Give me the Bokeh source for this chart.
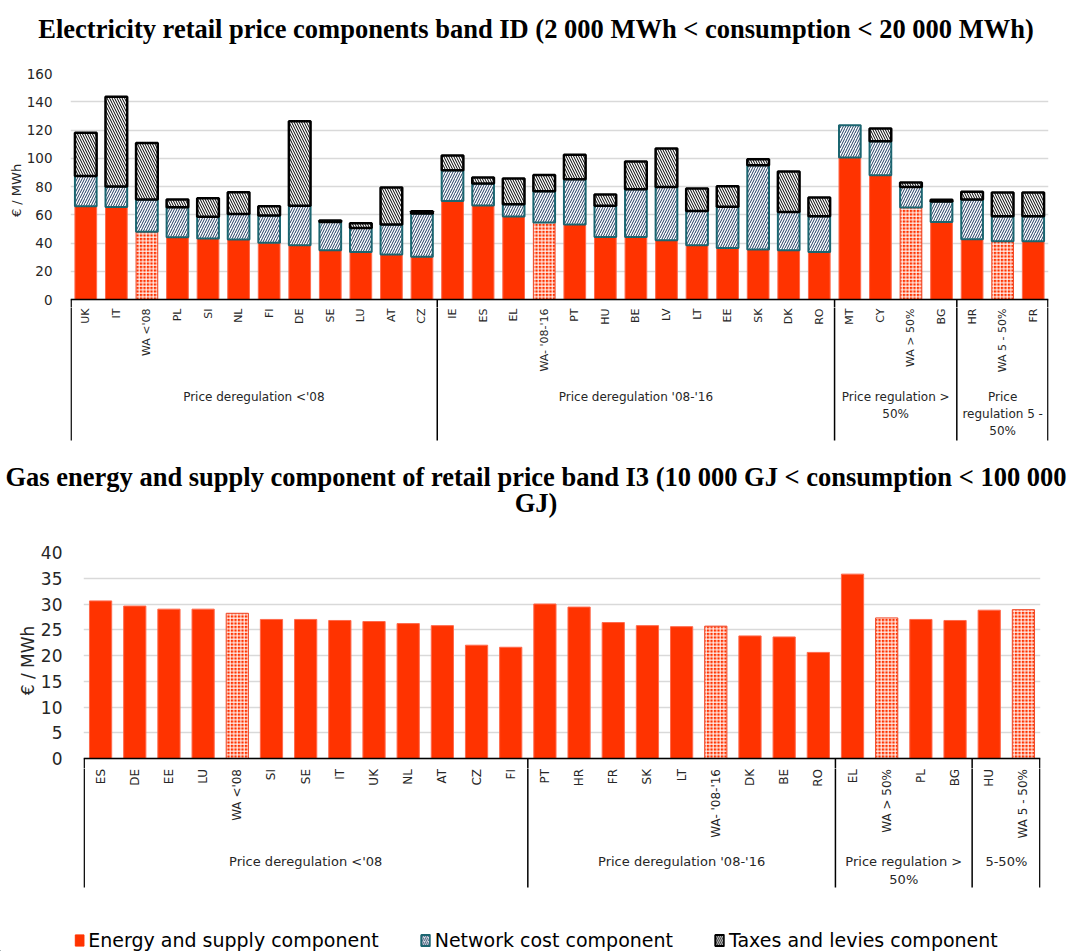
import numpy as np
from bokeh.plotting import figure
from bokeh.models import Range1d, FixedTicker, ColumnDataSource, Legend, LegendItem
from bokeh.layouts import column
from bokeh.embed import file_html
from bokeh.resources import INLINE
from bokeh.core.properties import value

# ---------------- data: electricity (top chart) ----------------
elec_title = "Electricity retail price components band ID (2 000 MWh < consumption < 20 000 MWh)"
elec_labels = ["UK", "IT", "WA <'08", "PL", "SI", "NL", "FI", "DE", "SE", "LU", "AT", "CZ",
               "IE", "ES", "EL", "WA- '08-'16", "PT", "HU", "BE", "LV", "LT", "EE", "SK", "DK", "RO",
               "MT", "CY", "WA > 50%", "BG",
               "HR", "WA 5 - 50%", "FR"]
elec_energy = [66.0, 65.5, 48.0, 44.0, 43.2, 42.5, 40.1, 38.4, 34.9, 33.7, 31.8, 30.2,
               69.8, 66.5, 58.7, 54.5, 53.1, 44.3, 44.3, 42.0, 38.4, 36.5, 35.4, 34.9, 33.7,
               100.5, 88.0, 65.1, 54.9,
               42.7, 41.3, 41.3]
elec_network = [21.5, 14.5, 22.8, 21.3, 15.3, 18.1, 19.4, 27.9, 20.0, 17.0, 21.3, 30.7,
                21.7, 15.6, 8.8, 22.2, 32.1, 22.0, 33.8, 37.7, 24.3, 29.1, 59.6, 27.1, 25.3,
                22.9, 24.0, 14.6, 14.5,
                28.1, 17.7, 17.7]
elec_taxes = [30.5, 63.5, 40.0, 5.5, 13.2, 15.4, 6.5, 59.9, 1.0, 3.3, 26.2, 1.6,
              10.4, 4.3, 18.1, 11.5, 17.2, 8.0, 19.6, 27.2, 15.9, 14.6, 4.3, 28.6, 13.2,
              0.0, 9.0, 3.1, 1.2,
              5.4, 16.8, 16.8]
elec_group_sizes = [12, 13, 4, 3]
elec_group_labels = ["Price deregulation <'08", "Price deregulation '08-'16",
                     "Price regulation >\n50%", "Price\nregulation 5 -\n50%"]
elec_ticks = [0, 20, 40, 60, 80, 100, 120, 140, 160]

# ---------------- data: gas (bottom chart) ----------------
gas_title = "Gas energy and supply component of retail price band I3 (10 000 GJ < consumption < 100 000\nGJ)"
gas_labels = ["ES", "DE", "EE", "LU", "WA <'08", "SI", "SE", "IT", "UK", "NL", "AT", "CZ", "FI",
              "PT", "HR", "FR", "SK", "LT", "WA- '08-'16", "DK", "BE", "RO",
              "EL", "WA > 50%", "PL", "BG",
              "HU", "WA 5 - 50%"]
gas_energy = [30.6, 29.6, 29.0, 29.0, 28.2, 27.0, 27.0, 26.8, 26.6, 26.2, 25.8, 22.0, 21.6,
              30.0, 29.4, 26.4, 25.8, 25.6, 25.7, 23.8, 23.6, 20.6,
              35.8, 27.3, 27.0, 26.8,
              28.8, 28.9]
gas_group_sizes = [13, 9, 4, 2]
gas_group_labels = ["Price deregulation <'08", "Price deregulation '08-'16",
                    "Price regulation >\n50%", "5-50%"]
gas_ticks = [0, 5, 10, 15, 20, 25, 30, 35, 40]

legend_labels = ["Energy and supply component", "Network cost component", "Taxes and levies component"]

# ---------------- styles ----------------
RED = "#FF3300"
TEAL = "#1B6570"
NAVY = "#1F3A60"
GRID = "#D9D9D9"
TXT = "#262626"
FONT = "DejaVu Sans"
SERIF = "Liberation Serif"
W = 1071


def blank_fig(h, xr, left=0, right=0):
    f = figure(width=W, height=h, x_range=xr, y_range=Range1d(-h, 0),
               toolbar_location=None, output_backend="svg",
               x_axis_type=None, y_axis_type=None,
               min_border_left=left, min_border_right=right,
               min_border_top=0, min_border_bottom=0)
    f.outline_line_color = None
    f.frame_align = False
    return f


def energy_source(labels, vals):
    wa = [lab.startswith("WA") for lab in labels]
    return ColumnDataSource(dict(
        x=list(range(len(labels))),
        bottom=[0.0] * len(labels),
        top=list(vals),
        hp=["+" if w else " " for w in wa],
        lc=["#F04A2A" if w else "#FF6A4D" for w in wa],
    ))


def group_bounds(sizes):
    b = np.concatenate([[0], np.cumsum(sizes)]) - 0.5
    bx = b.copy()
    bx[0] += 0.02
    bx[-1] -= 0.02
    return b, bx


def title_fig(h, text, ycenter):
    f = blank_fig(h, Range1d(0, W))
    lines = text.split("\n")
    f.text(x=[W / 2] * len(lines), y=[ycenter - 26 * i for i in range(len(lines))], text=lines,
           text_align="center", text_baseline="middle", text_font=value(SERIF),
           text_font_style="bold", text_font_size="26.5px", text_color="black")
    return f


def axis_marks(p, n, sizes, ybottom):
    # category axis line and the top part of the group separators
    _, bx = group_bounds(sizes)
    p.segment(x0=list(bx), y0=[0] * len(bx), x1=list(bx), y1=[ybottom] * len(bx),
              line_color="black", line_width=1.5)
    p.segment(x0=[-0.5], y0=[0], x1=[n - 0.5], y1=[0], line_color="black", line_width=1.5)


def label_fig(h, xr, labels, sizes, glabels, left, right, lab_size, glab_size,
              lab_y, glab_y, glab_lh, line_bottom):
    f = blank_fig(h, xr, left, right)
    n = len(labels)
    f.text(x=list(range(n)), y=[lab_y] * n, text=labels, angle=np.pi / 2,
           text_align="right", text_baseline="middle", text_font=value(FONT),
           text_font_size=lab_size, text_color=TXT)
    b, bx = group_bounds(sizes)
    f.segment(x0=list(bx), y0=[1] * len(bx), x1=list(bx), y1=[line_bottom] * len(bx),
              line_color="black", line_width=1.5)
    gx, gy, gt = [], [], []
    for i, gl in enumerate(glabels):
        c = (b[i] + b[i + 1]) / 2
        for k, ln in enumerate(gl.split("\n")):
            gx.append(c)
            gy.append(glab_y - glab_lh * k)
            gt.append(ln)
    f.text(x=gx, y=gy, text=gt, text_align="center", text_baseline="middle",
           text_font=value(FONT), text_font_size=glab_size, text_color=TXT)
    return f


def style_plot(p, ticks, tick_size, lab_size, standoff, lab_standoff):
    p.frame_align = False
    p.yaxis.ticker = FixedTicker(ticks=ticks)
    p.yaxis.axis_line_color = None
    p.yaxis.major_tick_line_color = None
    p.yaxis.minor_tick_line_color = None
    p.yaxis.major_label_standoff = standoff
    p.yaxis.major_label_text_font = FONT
    p.yaxis.major_label_text_font_size = tick_size
    p.yaxis.major_label_text_color = TXT
    p.yaxis.axis_label = "€ / MWh"
    p.yaxis.axis_label_text_font = FONT
    p.yaxis.axis_label_text_font_size = lab_size
    p.yaxis.axis_label_text_font_style = "normal"
    p.yaxis.axis_label_text_color = TXT
    p.yaxis.axis_label_standoff = lab_standoff
    p.ygrid.ticker = FixedTicker(ticks=ticks)
    p.ygrid.grid_line_color = GRID
    p.ygrid.grid_line_width = 1.5
    p.xgrid.visible = False
    p.outline_line_color = None


# ================= top: electricity =================
n1 = len(elec_labels)
xr1 = Range1d(-0.5, n1 - 0.5)
t1 = title_fig(63, elec_title, -28)

pA = figure(width=W, height=244, x_range=xr1, y_range=Range1d(-5.66, 160),
            toolbar_location=None, output_backend="svg", x_axis_type=None,
            min_border_left=70, min_border_right=23, min_border_top=10, min_border_bottom=0)
style_plot(pA, elec_ticks, "13.5px", "13px", 12, 0)

e_src = energy_source(elec_labels, elec_energy)
pA.vbar(x="x", bottom="bottom", top="top", width=0.71, source=e_src,
        fill_color=RED, line_color="lc", line_width=1,
        hatch_pattern="hp", hatch_color="white", hatch_scale=3.5, hatch_weight=1.0)

net_top = [a + b for a, b in zip(elec_energy, elec_network)]
n_src = ColumnDataSource(dict(x=list(range(n1)), bottom=list(elec_energy), top=net_top))
pA.vbar(x="x", bottom="bottom", top="top", width=0.71, source=n_src,
        fill_color="white", line_color=TEAL, line_width=2,
        hatch_pattern="/", hatch_color=NAVY, hatch_scale=5, hatch_weight=1)

tax_idx = [i for i in range(n1) if elec_taxes[i] > 0]
t_src = ColumnDataSource(dict(
    x=tax_idx,
    bottom=[net_top[i] for i in tax_idx],
    top=[net_top[i] + elec_taxes[i] for i in tax_idx]))
pA.vbar(x="x", bottom="bottom", top="top", width=0.71, source=t_src,
        fill_color="white", line_color="black", line_width=2.5,
        hatch_pattern="\\", hatch_color="black", hatch_scale=5, hatch_weight=1)
axis_marks(pA, n1, elec_group_sizes, -5.66)

pB = label_fig(142, xr1, elec_labels, elec_group_sizes, elec_group_labels, 70, 23,
               "11px", "12px", -1, -89, 17, -133)

# ================= bottom: gas =================
n2 = len(gas_labels)
xr2 = Range1d(-0.5, n2 - 0.5)
t2 = title_fig(93, gas_title, -27)

pC = figure(width=W, height=226, x_range=xr2, y_range=Range1d(-1.94, 40),
            toolbar_location=None, output_backend="svg", x_axis_type=None,
            min_border_left=83, min_border_right=31, min_border_top=10, min_border_bottom=0)
style_plot(pC, gas_ticks, "17px", "17px", 15, 0)
g_src = energy_source(gas_labels, gas_energy)
pC.vbar(x="x", bottom="bottom", top="top", width=0.65, source=g_src,
        fill_color=RED, line_color="lc", line_width=1,
        hatch_pattern="hp", hatch_color="white", hatch_scale=3.5, hatch_weight=1.0)
axis_marks(pC, n2, gas_group_sizes, -1.94)

pD = label_fig(127, xr2, gas_labels, gas_group_sizes, gas_group_labels, 83, 31,
               "12px", "13px", -0.5, -93, 18, -119)

# ================= legend =================
pL = blank_fig(56, Range1d(0, W))
dummy = lambda: ColumnDataSource(dict(x=[-1000], bottom=[-1000], top=[-999]))
r1 = pL.vbar(x="x", bottom="bottom", top="top", width=1, source=dummy(),
             fill_color=RED, line_color=RED)
r2 = pL.vbar(x="x", bottom="bottom", top="top", width=1, source=dummy(),
             fill_color="white", line_color=TEAL,
             line_width=2, hatch_pattern="/", hatch_color=NAVY, hatch_scale=4, hatch_weight=1)
r3 = pL.vbar(x="x", bottom="bottom", top="top", width=1, source=dummy(),
             fill_color="white", line_color="black",
             line_width=2, hatch_pattern="\\", hatch_color="black", hatch_scale=4, hatch_weight=1)
leg = Legend(items=[LegendItem(label=legend_labels[0], renderers=[r1]),
                    LegendItem(label=legend_labels[1], renderers=[r2]),
                    LegendItem(label=legend_labels[2], renderers=[r3])],
             orientation="horizontal", location="bottom_center",
             label_text_font=FONT, label_text_font_size="19px", label_text_color="black",
             glyph_width=11, glyph_height=14, label_standoff=4, spacing=41,
             padding=0, margin=0, border_line_color=None, background_fill_alpha=0)
pL.add_layout(leg)

layout = column(t1, pA, pB, t2, pC, pD, pL, spacing=0)
open("out.html", "w").write(file_html(layout, INLINE))
